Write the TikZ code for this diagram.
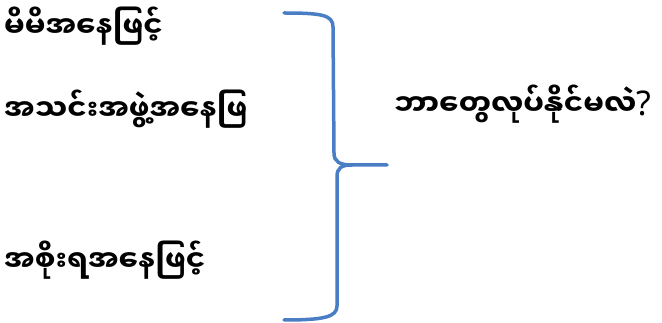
\documentclass[tikz,border=0pt]{standalone}
\usepackage{fontspec}
\usepackage{xcolor}
\newfontfamily\mmfont[Script=Myanmar]{Noto Sans Myanmar UI}
\newfontfamily\latfont{Noto Sans}
\definecolor{braceblue}{HTML}{4A7EC4}
\usetikzlibrary{positioning}

\begin{document}
\begin{tikzpicture}[
    x=1pt, y=-1pt,
    every node/.style={align=left},
    lbl/.style={anchor=base west, inner sep=0pt, font=\mmfont\bfseries\fontsize{29}{34}\selectfont},
    bracestroke/.style={draw=braceblue, line width=3.5pt, line cap=round}
]
\useasboundingbox (0,0) rectangle (662,323);

% Nodes
\node[lbl] (self) at (4,38) {မိမိအနေဖြင့်};
\node[lbl] (group) at (4,121) {အသင်းအဖွဲ့အနေဖြ};
\node[lbl] (gov) at (4,272) {အစိုးရအနေဖြင့်};
\node[lbl] (ask) at (394,116) {ဘာတွေလုပ်နိုင်မလဲ\latfont\bfseries\fontsize{34}{38}\selectfont ?};

% Brace
\coordinate (btop) at (284,13);
\coordinate (btip) at (387,165);
\coordinate (bbot) at (284,320);
\draw[bracestroke] (btop) .. controls (322,13) and (333,15) .. (333,27)
    -- (334,153) .. controls (334,162) and (340,165) .. (352,165) -- (btip);
\draw[bracestroke] (352,165) .. controls (341,165) and (337,168) .. (337,177)
    -- (337,306) .. controls (337,317) and (324,320) .. (bbot);

\end{tikzpicture}
\end{document}
